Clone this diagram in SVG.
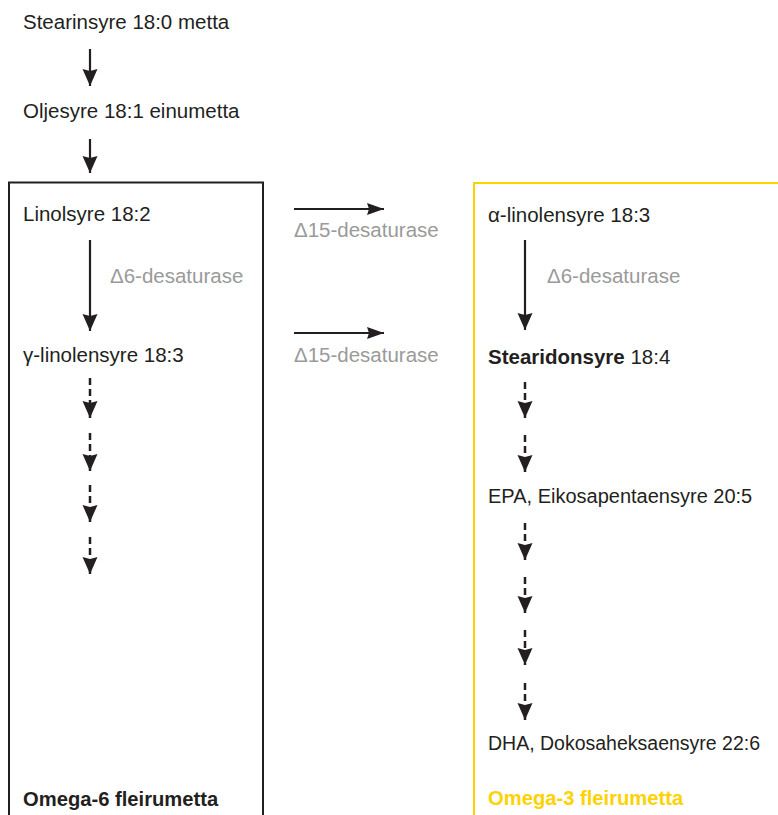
<svg xmlns="http://www.w3.org/2000/svg" width="778" height="815" viewBox="0 0 778 815">
<style>
.t{font-family:"Liberation Sans",Arial,sans-serif;font-size:20.5px;fill:#231f20}
.g{font-family:"Liberation Sans",Arial,sans-serif;font-size:20.5px;fill:#9a9a9a}
.b{font-weight:bold;font-size:20.2px}
.y{fill:#ffd200}
.a{stroke:#231f20;stroke-width:2.2;fill:none;marker-end:url(#ah)}
.d{stroke:#231f20;stroke-width:2.5;fill:none;stroke-dasharray:7 4;marker-end:url(#ah)}
.h{stroke:#231f20;stroke-width:2.2;fill:none;marker-end:url(#hh)}
</style>
<defs>
<marker id="ah" markerUnits="userSpaceOnUse" viewBox="0 -8 18 16" markerWidth="18" markerHeight="16" refX="17" refY="0" orient="auto">
<path d="M0,-7.5 L17,0 L0,7.5 L2,0 Z" fill="#231f20"/>
</marker>
<marker id="hh" markerUnits="userSpaceOnUse" viewBox="0 -7 18 14" markerWidth="18" markerHeight="14" refX="17" refY="0" orient="auto">
<path d="M0,-6 L17,0 L0,6 L2,0 Z" fill="#231f20"/>
</marker>
</defs>
<rect width="778" height="815" fill="#ffffff"/>
<g id="omega6-box">
<rect x="9" y="182.5" width="254" height="660" fill="none" stroke="#231f20" stroke-width="2"/>
<text class="t b" x="23" y="806">Omega-6 fleirumetta</text>
</g>
<g id="omega3-box">
<rect x="474" y="183" width="330" height="660" fill="none" stroke="#ffd200" stroke-width="2"/>
<text class="t b y" x="488" y="805">Omega-3 fleirumetta</text>
</g>
<g id="stearinsyre"><text class="t" x="23" y="29">Stearinsyre 18:0 metta</text></g>
<g id="oljesyre"><text class="t" x="23" y="118">Oljesyre 18:1 einumetta</text></g>
<g id="linolsyre"><text class="t" x="23" y="221">Linolsyre 18:2</text></g>
<g id="gamma-linolensyre"><text class="t" x="23" y="362">γ-linolensyre 18:3</text></g>
<g id="alfa-linolensyre"><text class="t" x="488" y="222">α-linolensyre 18:3</text></g>
<g id="stearidonsyre"><text class="t" x="488" y="364"><tspan class="b" style="font-size:20.5px">Stearidonsyre</tspan> 18:4</text></g>
<g id="epa"><text class="t" x="488" y="503" style="font-size:20px">EPA, Eikosapentaensyre 20:5</text></g>
<g id="dha"><text class="t" x="488" y="750" style="font-size:19.5px">DHA, Dokosaheksaensyre 22:6</text></g>
<g id="connectors">
<line class="a" x1="90" y1="49" x2="90" y2="86"/>
<line class="a" x1="90" y1="139" x2="90" y2="173"/>
<line class="a" x1="90" y1="240" x2="90" y2="331"/>
<text class="g" x="110" y="283">Δ6-desaturase</text>
<line class="a" x1="525" y1="240" x2="525" y2="330"/>
<text class="g" x="547" y="283">Δ6-desaturase</text>
<line class="h" x1="294" y1="209" x2="384" y2="209"/>
<text class="g" x="294" y="237">Δ15-desaturase</text>
<line class="h" x1="294" y1="333" x2="384" y2="333"/>
<text class="g" x="294" y="362">Δ15-desaturase</text>
<line class="d" x1="90" y1="378" x2="90" y2="418"/>
<line class="d" x1="90" y1="433" x2="90" y2="471"/>
<line class="d" x1="90" y1="485" x2="90" y2="522"/>
<line class="d" x1="90" y1="537" x2="90" y2="574"/>
<line class="d" x1="525" y1="382" x2="525" y2="418"/>
<line class="d" x1="525" y1="435" x2="525" y2="472"/>
<line class="d" x1="525" y1="523" x2="525" y2="560"/>
<line class="d" x1="525" y1="577" x2="525" y2="613"/>
<line class="d" x1="525" y1="630" x2="525" y2="665"/>
<line class="d" x1="525" y1="683" x2="525" y2="720"/>
</g>
</svg>
